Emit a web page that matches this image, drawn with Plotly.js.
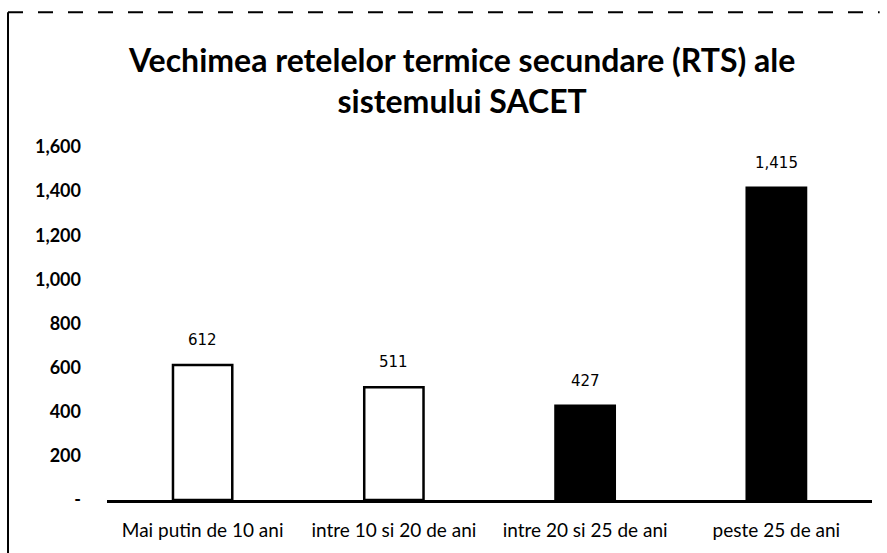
<!DOCTYPE html>
<html>
<head>
<meta charset="utf-8">
<script src="https://cdn.plot.ly/plotly-3.0.1.min.js"></script>
<style>html,body{margin:0;padding:0;background:#fff;}#chart{width:887px;height:553px;}</style>
</head>
<body>
<div id="chart"></div>
<script>
const categories = ["Mai putin de 10 ani", "intre 10 si 20 de ani", "intre 20 si 25 de ani", "peste 25 de ani"];
const values = [612, 511, 427, 1415];
const valueLabels = ["612", "511", "427", "1,415"];
const fillColors = ["#ffffff", "#ffffff", "#000000", "#000000"];
const yTickVals = [0, 200, 400, 600, 800, 1000, 1200, 1400, 1600];
const yTickText = ["-", "200", "400", "600", "800", "1,000", "1,200", "1,400", "1,600"];

const trace = {
  type: "bar",
  x: categories,
  y: values,
  width: 0.31,
  marker: {color: fillColors, line: {color: "#000", width: 2.5}},
  hoverinfo: "none"
};

const labelAnnotations = categories.map((c, i) => ({
  x: c, y: values[i], xref: "x", yref: "y",
  text: valueLabels[i], showarrow: false,
  yanchor: "bottom", yshift: 14,
  font: {family: "DejaVu Sans", size: 15, color: "#000"}
}));

const layout = {
  width: 887, height: 553,
  margin: {l: 107, r: 15, t: 147, b: 53},
  paper_bgcolor: "#fff", plot_bgcolor: "#fff",
  showlegend: false,
  font: {family: "Lato, 'Open Sans', sans-serif", color: "#000"},
  title: {
    text: "Vechimea retelelor termice secundare (RTS) ale<br>sistemului SACET",
    font: {family: "Lato", size: 32, color: "#000", weight: "bold"},
    x: 0.521, xanchor: "center", y: 0.87, yanchor: "middle"
  },
  xaxis: {
    type: "category",
    showgrid: false, zeroline: false,
    showline: true, linecolor: "#000", linewidth: 2.5,
    ticks: "", tickfont: {family: "Lato", size: 19, color: "#000"},
    ticklabelstandoff: 12
  },
  yaxis: {
    range: [0, 1600],
    tickvals: yTickVals, ticktext: yTickText,
    showgrid: false, zeroline: false, showline: false,
    ticks: "", tickfont: {family: "Lato", size: 18, color: "#000", weight: "bold"},
    ticklabelstandoff: 25
  },
  annotations: labelAnnotations,
  shapes: [
    {type: "line", xref: "paper", yref: "paper", x0: -0.1294, x1: -0.1294, y0: -0.16, y1: 1.382, line: {color: "#000", width: 2}},
    {type: "line", xref: "paper", yref: "paper", x0: -0.1294, x1: 1.01, y0: 1.382, y1: 1.382, line: {color: "#000", width: 2, dash: "longdash"}}
  ],
  bargap: 0.69
};

Plotly.newPlot("chart", [trace], layout, {displayModeBar: false, staticPlot: true});
</script>
</body>
</html>
